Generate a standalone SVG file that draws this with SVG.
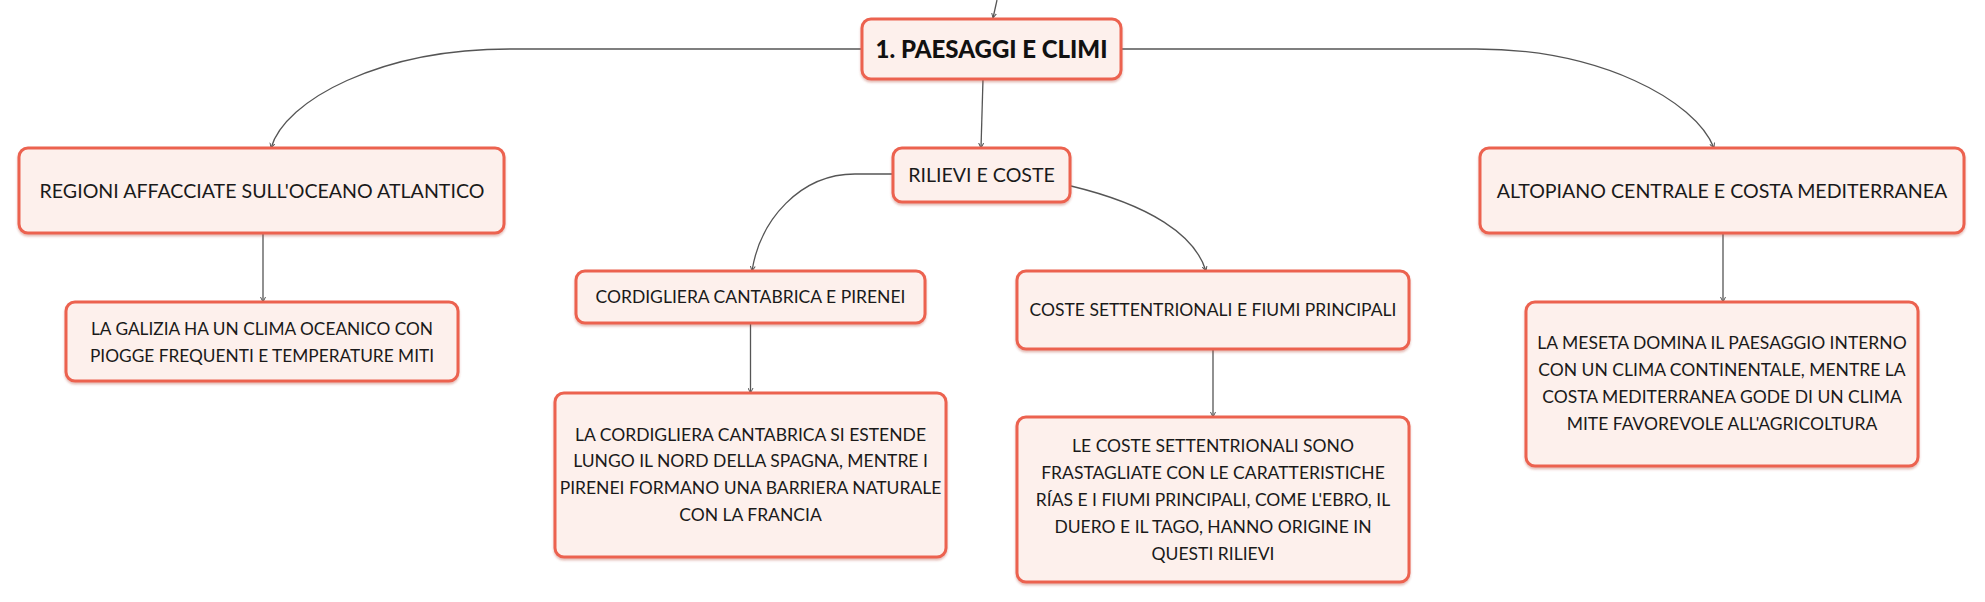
<svg xmlns="http://www.w3.org/2000/svg" width="1985" height="602" viewBox="0 0 1985 602">
<defs>
<marker id="arr" markerWidth="6" markerHeight="6" refX="5" refY="3" orient="auto" markerUnits="userSpaceOnUse">
<path d="M0,0.5 L5,3 L0,5.5" fill="none" stroke="#555" stroke-width="1"/>
</marker>
<filter id="sh" x="-5%" y="-10%" width="110%" height="130%">
<feDropShadow dx="0" dy="2" stdDeviation="1.2" flood-color="#b04030" flood-opacity="0.35"/>
</filter>
</defs>
<style>
.box{fill:#FDF0EC;stroke:#EC6250;stroke-width:3;filter:url(#sh)}
.t{font-family:Lato,"Liberation Sans",sans-serif;font-size:17.5px;fill:#1a1a1a;text-anchor:middle}
.tl{font-family:Lato,"Liberation Sans",sans-serif;font-size:19.6px;fill:#1a1a1a;text-anchor:middle}
.ts{font-family:Lato,"Liberation Sans",sans-serif;font-size:17.3px;fill:#1a1a1a;text-anchor:middle}
.tb{font-family:Lato,"Liberation Sans",sans-serif;font-size:24px;font-weight:900;fill:#111;text-anchor:middle}
.c{fill:none;stroke:#555;stroke-width:1.3;marker-end:url(#arr)}
</style>
<rect width="1985" height="602" fill="#fff"/>
<g id="connectors">
<path class="c" d="M997,0 L993,18"/>
<path class="c" d="M862,49 H510 C380,49 285,100 271,148"/>
<path class="c" d="M1121,49 H1476 C1600,49 1695,100 1714,148"/>
<path class="c" d="M983,79 L981,148"/>
<path class="c" d="M893,174 H855 C800,174 760,220 752,271"/>
<path class="c" d="M1071,186 C1150,205 1195,235 1206,271"/>
<path class="c" d="M263,233 V302"/>
<path class="c" d="M750.5,323 V393"/>
<path class="c" d="M1213,349 V417"/>
<path class="c" d="M1723,233 V302"/>
</g>
<g id="main">
<rect class="box" x="862" y="19" width="259" height="60" rx="9"/>
<text class="tb" x="991.5" y="57.5">1. PAESAGGI E CLIMI</text>
</g>
<g id="regioni">
<rect class="box" x="19" y="148" width="485" height="85" rx="9"/>
<text class="tl" x="262" y="198">REGIONI AFFACCIATE SULL'OCEANO ATLANTICO</text>
</g>
<g id="rilievi">
<rect class="box" x="893" y="148" width="177" height="54" rx="9"/>
<text class="tl" x="981.5" y="182">RILIEVI E COSTE</text>
</g>
<g id="altopiano">
<rect class="box" x="1480" y="148" width="484" height="85" rx="9"/>
<text class="tl" x="1722" y="198">ALTOPIANO CENTRALE E COSTA MEDITERRANEA</text>
</g>
<g id="cordigliera">
<rect class="box" x="576" y="271" width="349" height="52" rx="9"/>
<text class="t" x="750.5" y="303">CORDIGLIERA CANTABRICA E PIRENEI</text>
</g>
<g id="coste">
<rect class="box" x="1017" y="271" width="392" height="78" rx="9"/>
<text class="t" x="1213" y="316">COSTE SETTENTRIONALI E FIUMI PRINCIPALI</text>
</g>
<g id="galizia">
<rect class="box" x="66" y="302" width="392" height="79" rx="9"/>
<text class="ts" x="262" y="334.5">LA GALIZIA HA UN CLIMA OCEANICO CON</text>
<text class="ts" x="262" y="361.5">PIOGGE FREQUENTI E TEMPERATURE MITI</text>
</g>
<g id="cordigliera-desc">
<rect class="box" x="555" y="393" width="391" height="164" rx="9"/>
<text class="t" x="750.5" y="440.5">LA CORDIGLIERA CANTABRICA SI ESTENDE</text>
<text class="t" x="750.5" y="467.3">LUNGO IL NORD DELLA SPAGNA, MENTRE I</text>
<text class="t" x="750.5" y="494">PIRENEI FORMANO UNA BARRIERA NATURALE</text>
<text class="t" x="750.5" y="520.7">CON LA FRANCIA</text>
</g>
<g id="coste-desc">
<rect class="box" x="1017" y="417" width="392" height="165" rx="9"/>
<text class="t" x="1213" y="452">LE COSTE SETTENTRIONALI SONO</text>
<text class="t" x="1213" y="479">FRASTAGLIATE CON LE CARATTERISTICHE</text>
<text class="t" x="1213" y="506">RÍAS E I FIUMI PRINCIPALI, COME L'EBRO, IL</text>
<text class="t" x="1213" y="533">DUERO E IL TAGO, HANNO ORIGINE IN</text>
<text class="t" x="1213" y="560">QUESTI RILIEVI</text>
</g>
<g id="meseta">
<rect class="box" x="1526" y="302" width="392" height="164" rx="9"/>
<text class="t" x="1722" y="349">LA MESETA DOMINA IL PAESAGGIO INTERNO</text>
<text class="t" x="1722" y="375.7">CON UN CLIMA CONTINENTALE, MENTRE LA</text>
<text class="t" x="1722" y="402.7">COSTA MEDITERRANEA GODE DI UN CLIMA</text>
<text class="t" x="1722" y="429.5">MITE FAVOREVOLE ALL'AGRICOLTURA</text>
</g>
</svg>
